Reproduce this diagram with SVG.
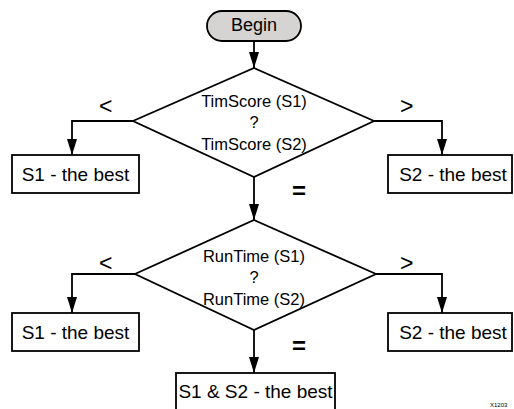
<svg xmlns="http://www.w3.org/2000/svg" width="514" height="409" viewBox="0 0 514 409">
<defs>
<marker id="arr" markerWidth="16" markerHeight="10" refX="16" refY="5" orient="auto" markerUnits="userSpaceOnUse" viewBox="0 0 16 10">
<path d="M0,0 L16,5 L0,10 Z" fill="#000"/>
</marker>
</defs>
<style>
.shape{fill:#fff;stroke:#000;stroke-width:1.8}
.pill{fill:#d6d4d2;stroke:#000;stroke-width:1.8}
.conn{fill:none;stroke:#000;stroke-width:1.8;marker-end:url(#arr)}
text{font-family:"Liberation Sans",Arial,sans-serif;fill:#000}
.lbl{font-size:19px}
.dt{font-size:16.5px;text-anchor:middle}
.op{font-size:23px}
.eq{font-size:24px;font-weight:bold}
</style>
<rect width="514" height="409" fill="#fff"/>
<g id="connectors">
<path class="conn" d="M254,41 V68"/>
<path class="conn" d="M133,121 H72 V155"/>
<path class="conn" d="M374,121 H442 V155"/>
<path class="conn" d="M254,177 V220"/>
<path class="conn" d="M135,274 H72 V313"/>
<path class="conn" d="M376,274 H442 V313"/>
<path class="conn" d="M254,330 V373"/>
<text class="op" x="99" y="114">&lt;</text>
<text class="op" x="400" y="114">&gt;</text>
<text class="eq" x="292" y="199">=</text>
<text class="op" x="99" y="271">&lt;</text>
<text class="op" x="400" y="271">&gt;</text>
<text class="eq" x="292" y="354">=</text>
</g>
<g id="begin">
<rect class="pill" x="207" y="11" width="94" height="30" rx="15" ry="15"/>
<text x="254" y="31" font-size="18" text-anchor="middle">Begin</text>
</g>
<g id="decision1">
<polygon class="shape" points="254,68 374,121 254,177 133,121"/>
<text class="dt" x="254" y="107">TimScore (S1)</text>
<text class="dt" x="254" y="128">?</text>
<text class="dt" x="254" y="150">TimScore (S2)</text>
</g>
<g id="s1best1">
<rect class="shape" x="12" y="155" width="127" height="38"/>
<text class="lbl" x="75.5" y="181" text-anchor="middle">S1 - the best</text>
</g>
<g id="s2best1">
<rect class="shape" x="388" y="155" width="124" height="38"/>
<text class="lbl" x="453" y="181" text-anchor="middle">S2 - the best</text>
</g>
<g id="decision2">
<polygon class="shape" points="254,220 376,274 254,330 135,274"/>
<text class="dt" x="254" y="262">RunTime (S1)</text>
<text class="dt" x="254" y="283">?</text>
<text class="dt" x="254" y="305">RunTime (S2)</text>
</g>
<g id="s1best2">
<rect class="shape" x="12" y="313" width="127" height="38"/>
<text class="lbl" x="75.5" y="339" text-anchor="middle">S1 - the best</text>
</g>
<g id="s2best2">
<rect class="shape" x="388" y="313" width="124" height="38"/>
<text class="lbl" x="453" y="339" text-anchor="middle">S2 - the best</text>
</g>
<g id="bothbest">
<rect class="shape" x="176" y="373" width="159" height="40"/>
<text class="lbl" x="255.5" y="398" text-anchor="middle">S1 &amp; S2 - the best</text>
</g>
<text x="490" y="407" font-size="6" fill="#444">X1203</text>
</svg>
